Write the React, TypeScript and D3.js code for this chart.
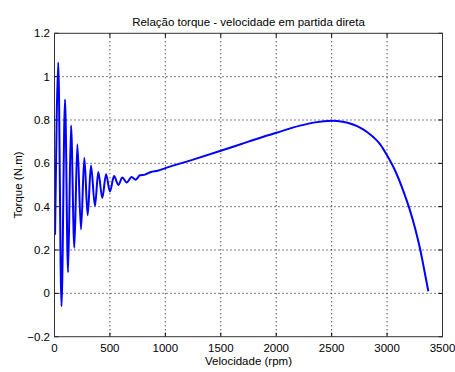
import React from "react";
import * as d3 from "d3";

const rpm = [5, 20, 34, 63, 95, 122, 149, 179, 206, 239, 269, 299, 329, 365, 395, 431, 465, 500, 537, 576, 612, 651, 696, 732, 770, 816, 870, 930, 1000, 1250, 1500, 1750, 2000, 2215, 2350, 2500, 2600, 2693, 2760, 2816, 2880, 2936, 3002, 3072, 3147, 3201, 3252, 3297, 3333, 3372];
const torque = [0.27, 0.82, 1.065, -0.06, 0.895, 0.097, 0.775, 0.21, 0.688, 0.295, 0.626, 0.36, 0.59, 0.403, 0.56, 0.44, 0.55, 0.47, 0.541, 0.50, 0.535, 0.512, 0.537, 0.524, 0.545, 0.548, 0.560, 0.566, 0.578, 0.617, 0.658, 0.700, 0.741, 0.774, 0.789, 0.796, 0.792, 0.779, 0.764, 0.746, 0.719, 0.689, 0.635, 0.567, 0.472, 0.392, 0.302, 0.207, 0.115, 0.01];
const xTicks = [0, 500, 1000, 1500, 2000, 2500, 3000, 3500];
const yTicks = [-0.2, 0, 0.2, 0.4, 0.6, 0.8, 1, 1.2];
const title = "Relação torque - velocidade em partida direta";
const xLabel = "Velocidade (rpm)";
const yLabel = "Torque (N.m)";

export default function App() {
  const W = 455, H = 372;
  const L = 54.5, R = 442.5, T = 33.3, B = 336.7;
  const x = d3.scaleLinear().domain([0, 3500]).range([L, R]);
  const y = d3.scaleLinear().domain([-0.2, 1.2]).range([B, T]);
  const pts = rpm.map((r, i) => [r, torque[i]] as [number, number]);
  const line = d3.line<[number, number]>().x(d => x(d[0])).y(d => y(d[1])).curve(d3.curveMonotoneX);
  const font = "'Liberation Sans', Arial, sans-serif";
  const fs = 11.5;
  return (
    <svg width={W} height={H} style={{ position: "absolute", left: 0, top: 0, background: "#fff" }} fontFamily={font}>
      <rect x={0} y={0} width={W} height={H} fill="#fff" />
      {xTicks.slice(1, -1).map(t => (
        <line key={"gx" + t} x1={x(t)} x2={x(t)} y1={T} y2={B} stroke="#000" strokeWidth={1} strokeDasharray="1,3" />
      ))}
      {yTicks.slice(1, -1).map(t => (
        <line key={"gy" + t} x1={L} x2={R} y1={y(t)} y2={y(t)} stroke="#000" strokeWidth={1} strokeDasharray="1,3" />
      ))}
      {xTicks.map(t => (
        <g key={"tx" + t}>
          <line x1={x(t)} x2={x(t)} y1={B} y2={B - 4} stroke="#000" />
          <line x1={x(t)} x2={x(t)} y1={T} y2={T + 4} stroke="#000" />
          <text x={x(t)} y={352} fontSize={fs} textAnchor="middle" fill="#000">{t}</text>
        </g>
      ))}
      {yTicks.map(t => (
        <g key={"ty" + t}>
          <line x1={L} x2={L + 4} y1={y(t)} y2={y(t)} stroke="#000" />
          <line x1={R} x2={R - 4} y1={y(t)} y2={y(t)} stroke="#000" />
          <text x={50} y={y(t) + 4} fontSize={fs} textAnchor="end" fill="#000">{d3.format("~g")(t)}</text>
        </g>
      ))}
      <path d={line(pts) || ""} fill="none" stroke="#0000ff" strokeWidth={2} strokeLinejoin="round" />
      <rect x={L} y={T} width={R - L} height={B - T} fill="none" stroke="#333" strokeWidth={1} />
      <text x={(L + R) / 2} y={26} fontSize={fs} textAnchor="middle" fill="#000">{title}</text>
      <text x={(L + R) / 2} y={365} fontSize={fs} textAnchor="middle" fill="#000">{xLabel}</text>
      <text transform={`translate(22,${(T + B) / 2}) rotate(-90)`} fontSize={fs} textAnchor="middle" fill="#000">{yLabel}</text>
    </svg>
  );
}
